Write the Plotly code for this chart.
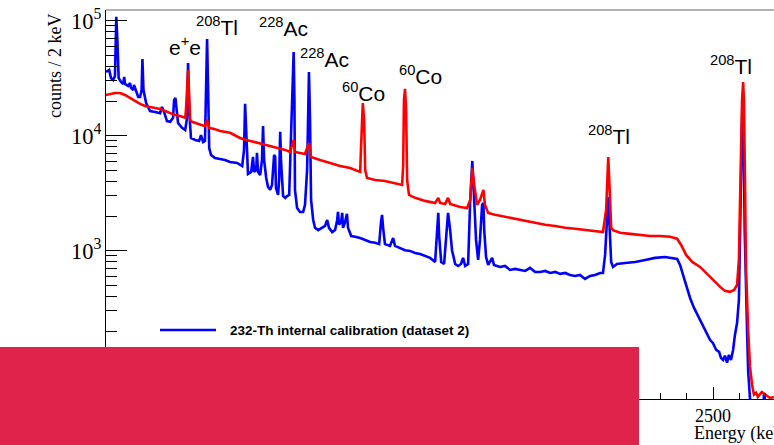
import plotly.graph_objects as go

# ---------------- data (energy in keV, counts per 2 keV bin) ----------------
blue_energy = [
    200, 212, 219, 227, 234, 236, 239, 243, 248, 257, 265, 269, 272, 284, 291, 295,
    303, 306, 314, 322, 329, 335, 338, 342, 352, 367, 386, 405, 412, 420, 431, 443,
    454, 458, 463, 467, 473, 488, 500, 506, 511, 515, 522, 538, 553, 560, 568, 575,
    579, 583, 587, 591, 598, 613, 632, 651, 670, 697, 716, 723, 727, 733, 738, 750,
    757, 761, 769, 772, 776, 784, 791, 795, 799, 807, 814, 822, 829, 837, 841, 844,
    852, 856, 860, 863, 871, 879, 886, 894, 897, 905, 911, 914, 916, 924, 935, 947,
    954, 962, 966, 969, 973, 977, 985, 992, 1004, 1019, 1030, 1038, 1045, 1057, 1068, 1076,
    1079, 1083, 1091, 1095, 1098, 1106, 1113, 1117, 1129, 1144, 1163, 1182, 1201, 1220, 1235, 1242,
    1246, 1250, 1257, 1276, 1288, 1295, 1314, 1333, 1352, 1371, 1390, 1409, 1428, 1447, 1454, 1459,
    1462, 1470, 1481, 1489, 1496, 1504, 1511, 1523, 1534, 1545, 1553, 1561, 1572, 1580, 1588, 1595,
    1602, 1610, 1617, 1625, 1630, 1633, 1640, 1648, 1655, 1663, 1670, 1693, 1712, 1731, 1750, 1769,
    1788, 1807, 1826, 1845, 1864, 1883, 1902, 1921, 1940, 1958, 1977, 1996, 2015, 2034, 2053, 2072,
    2083, 2091, 2099, 2103, 2106, 2114, 2121, 2136, 2167, 2205, 2243, 2280, 2318, 2345, 2364, 2375,
    2390, 2402, 2413, 2428, 2451, 2470, 2489, 2500, 2512, 2523, 2530, 2538, 2545, 2553, 2560, 2568,
    2576, 2583, 2591, 2598, 2606, 2611, 2616, 2620, 2629, 2633, 2640, 2646, 2690, 2693, 2696, 2731,
]
blue_counts = [
    35800, 37300, 31700, 30500, 33000, 83000, 108000, 67900, 31700, 29300, 28200, 32400, 28200, 27100, 28700, 26000,
    24900, 27600, 24000, 21700, 21700, 24900, 46400, 24900, 19200, 16400, 16100, 15700, 17800, 16100, 13400, 13200,
    14300, 20400, 21300, 16700, 12900, 11700, 11200, 13700, 42900, 16700, 9550, 9180, 9000, 10100, 8810, 9000,
    20400, 69300, 24900, 7820, 6800, 6400, 6270, 6150, 5910, 5790, 5450, 7520, 18900, 7520, 4650, 4840,
    6530, 4840, 5040, 7080, 4840, 4550, 6150, 12100, 6150, 4290, 3580, 3380, 3730, 6800, 6530, 3510,
    3050, 4120, 10800, 6150, 2990, 2880, 2990, 3050, 5040, 30500, 53400, 20400, 3380, 2350, 2170, 2170,
    2500, 5040, 20400, 35800, 13700, 2760, 1850, 1580, 1510, 1580, 1640, 1850, 1580, 1450, 1510, 1850,
    2170, 1680, 1780, 2130, 1580, 1780, 2090, 1580, 1340, 1320, 1290, 1240, 1190, 1170, 1140, 1780,
    2050, 1580, 1140, 1100, 1290, 1100, 1060, 1010, 995, 955, 936, 900, 865, 798, 1370, 2130,
    1370, 798, 766, 1240, 2130, 1510, 1010, 766, 736, 766, 865, 736, 766, 2760, 6030, 2760,
    1240, 830, 1240, 2500, 2600, 1510, 880, 752, 798, 865, 752, 722, 736, 680, 694, 680,
    666, 708, 653, 653, 666, 640, 653, 628, 640, 615, 603, 615, 568, 603, 615, 640,
    640, 918, 2500, 2930, 2050, 798, 722, 766, 782, 798, 830, 865, 880, 865, 847, 752,
    579, 456, 388, 318, 250, 205, 167, 157, 137, 132, 117, 112, 122, 106, 124, 112,
    137, 185, 235, 372, 2760, 17800, 9000, 1500, 200, 90, 52, 35, 40, 56, 40, 40,
]

red_energy = [
    200, 216, 234, 253, 272, 291, 310, 329, 348, 367, 386, 405, 424, 443, 462, 481,
    500, 503, 507, 511, 515, 519, 526, 538, 556, 575, 583, 591, 613, 632, 670, 708,
    731, 746, 784, 822, 860, 879, 897, 911, 916, 935, 954, 969, 977, 1011, 1049, 1087,
    1125, 1155, 1163, 1166, 1170, 1173, 1178, 1182, 1189, 1220, 1257, 1295, 1322, 1326, 1329, 1333,
    1337, 1341, 1348, 1371, 1409, 1447, 1459, 1466, 1485, 1496, 1504, 1542, 1568, 1580, 1588, 1595,
    1606, 1617, 1630, 1636, 1648, 1674, 1712, 1750, 1788, 1826, 1864, 1902, 1940, 1977, 2015, 2053,
    2083, 2095, 2103, 2106, 2114, 2121, 2148, 2186, 2224, 2262, 2299, 2337, 2364, 2379, 2398, 2421,
    2451, 2489, 2508, 2527, 2545, 2564, 2580, 2591, 2598, 2606, 2610, 2614, 2617, 2621, 2625, 2633,
    2640, 2648, 2655, 2663, 2670, 2685, 2701, 2716, 2731,
]
red_counts = [
    22600, 23100, 23500, 23500, 22600, 21300, 20000, 18900, 18100, 17800, 17400, 17100, 16400, 15700, 15100, 14800,
    14300, 16700, 30500, 37300, 22600, 13700, 13200, 12900, 12400, 12100, 13700, 11700, 11400, 11000, 10600, 9550,
    9180, 9000, 8650, 8140, 7820, 7520, 7210, 9180, 7210, 7080, 6930, 8650, 6530, 6150, 5790, 5450,
    5240, 4940, 4840, 7520, 16700, 19200, 13700, 5040, 4290, 4120, 4040, 3880, 3730, 5560, 20400, 25500,
    16700, 4120, 3050, 2880, 2710, 2600, 2880, 2600, 2550, 2880, 2550, 2400, 2350, 2760, 5240, 3730,
    2500, 2760, 3380, 2500, 2130, 2050, 1970, 1890, 1810, 1740, 1680, 1640, 1580, 1550, 1510, 1480,
    1450, 2260, 6530, 4550, 1580, 1510, 1430, 1400, 1370, 1340, 1340, 1320, 1270, 1120, 918, 798,
    722, 591, 524, 484, 447, 438, 456, 503, 830, 7520, 20400, 29300, 20400, 4120, 680, 205,
    98, 68, 56, 58, 53.5, 59, 55, 52.4, 53.5,
]

# peak labels: (energy position, log10 height, text)
label_energy = [500, 621, 871, 1026, 1174, 1390, 2106, 2568]
label_logy = [4.78, 4.95, 4.945, 4.676, 4.38, 4.528, 4.006, 4.615]
label_text = ["e<sup>+</sup>e", "<sup>208</sup>Tl", "<sup>228</sup>Ac", "<sup>228</sup>Ac",
              "<sup>60</sup>Co", "<sup>60</sup>Co", "<sup>208</sup>Tl", "<sup>208</sup>Tl"]

legend_text = "232-Th internal calibration (dataset 2)"
x_title = "Energy (keV)"
y_title = "counts / 2 keV"

# ---------------- figure ----------------
W, H = 774, 445
ML, MR, MT, MB = 106, 0, 10, 46
PW, PH = W - ML - MR, H - MT - MB


def px(x):
    return (x - ML) / PW


def py(y):
    return (H - MB - y) / PH


fig = go.Figure()
fig.add_trace(go.Scatter(x=blue_energy, y=blue_counts, mode="lines",
                         line=dict(color="#0000ff", width=2.6), showlegend=False))
fig.add_trace(go.Scatter(x=red_energy, y=red_counts, mode="lines",
                         line=dict(color="#ff0000", width=2.6), showlegend=False))

serif = "Liberation Serif, Times New Roman, serif"
sans = "Liberation Sans, Arial, Helvetica, sans-serif"

fig.update_layout(
    width=W, height=H,
    margin=dict(l=ML, r=MR, t=MT, b=MB, pad=0),
    paper_bgcolor="white", plot_bgcolor="white",
    showlegend=False,
    xaxis=dict(range=[200, 2731], showgrid=False, zeroline=False,
               showline=True, linecolor="black", linewidth=1,
               ticks="inside", ticklen=12, tickcolor="black", tickwidth=1,
               tick0=0, dtick=500,
               minor=dict(ticks="inside", ticklen=6, tickcolor="black", dtick=100, showgrid=False),
               tickfont=dict(family=serif, size=18, color="black")),
    yaxis=dict(type="log", range=[1.71, 5.093], showgrid=False, zeroline=False,
               showline=True, linecolor="black", linewidth=1,
               ticks="inside", ticklen=21, tickcolor="black", tickwidth=1,
               dtick=1, exponentformat="power", showexponent="all",
               minor=dict(ticks="inside", ticklen=11, tickcolor="black", showgrid=False),
               tickfont=dict(family=serif, size=18, color="black")),
)

annotations = []
for e, ly, t in zip(label_energy, label_logy, label_text):
    annotations.append(dict(x=e, y=ly, xref="x", yref="y", text=t, showarrow=False,
                            xanchor="center", yanchor="middle",
                            font=dict(family=sans, size=21, color="black")))

# legend entry
annotations.append(dict(x=px(228), y=py(330), xref="paper", yref="paper", text="<b>%s</b>" % legend_text,
                        showarrow=False, xanchor="left", yanchor="middle",
                        font=dict(family=sans, size=13.5, color="black")))
# axis titles
annotations.append(dict(x=px(55), y=py(66), xref="paper", yref="paper", text=y_title, textangle=-90,
                        showarrow=False, xanchor="center", yanchor="middle",
                        font=dict(family=serif, size=18, color="black")))
annotations.append(dict(x=px(692), y=py(433), xref="paper", yref="paper", text=x_title,
                        showarrow=False, xanchor="left", yanchor="middle",
                        font=dict(family=serif, size=18, color="black")))
fig.update_layout(annotations=annotations)

shapes = [
    # top frame
    dict(type="line", xref="paper", yref="paper", x0=0, x1=1, y0=1, y1=1,
         line=dict(color="#666666", width=1)),
    # legend line
    dict(type="line", xref="paper", yref="paper", x0=px(160), x1=px(216), y0=py(330), y1=py(330),
         line=dict(color="#0000ff", width=2.6)),
    # red block over the lower left
    dict(type="rect", xref="paper", yref="paper", x0=px(0), x1=px(639), y0=py(445), y1=py(347),
         fillcolor="#e0234a", line=dict(width=0), layer="above"),
]
fig.update_layout(shapes=shapes)

fig.write_html("out.html")
